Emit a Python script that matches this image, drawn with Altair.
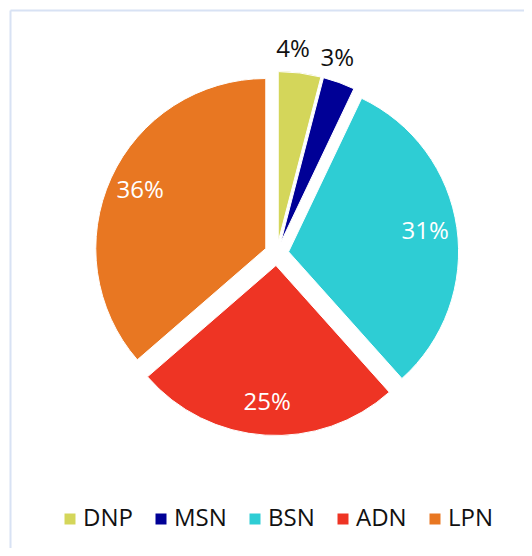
import altair as alt
import pandas as pd

categories = ["DNP", "MSN", "BSN", "ADN", "LPN"]
values = [4, 3, 31, 25, 36]
colors = ["#D4D65A", "#000096", "#2ECDD4", "#EE3424", "#E87722"]

df = pd.DataFrame({"cat": categories, "value": values, "order": list(range(len(categories)))})

W, H = 516, 540
CX, CY = 268.7, 245.5
R = 170
EXPLODE = 12
FONT = "Open Sans"

base = (
    alt.Chart(df)
    .transform_joinaggregate(total="sum(value)")
    .transform_window(cum="sum(value)", sort=[alt.SortField("order")], frame=[None, 0])
    .transform_calculate(
        start="2*PI*(datum.cum - datum.value)/datum.total",
        end="2*PI*datum.cum/datum.total",
    )
    .transform_calculate(mid="(datum.start + datum.end)/2")
    .transform_calculate(
        cx=f"{CX} + {EXPLODE}*sin(datum.mid)",
        cy=f"{CY} - {EXPLODE}*cos(datum.mid)",
        out_theta="datum.mid - 0.05",
        label="datum.value + '%'",
    )
)

arcs = base.mark_arc(outerRadius=R, stroke="white", strokeWidth=1).encode(
    theta=alt.Theta("start:Q", scale=None, stack=None),
    theta2="end:Q",
    x=alt.X("cx:Q", scale=None),
    y=alt.Y("cy:Q", scale=None),
    color=alt.Color(
        "cat:N",
        scale=alt.Scale(domain=categories, range=colors),
        sort=categories,
        legend=alt.Legend(
            title=None,
            orient="none",
            legendX=50,
            legendY=499,
            direction="horizontal",
            symbolType="square",
            symbolSize=121,
            symbolStrokeWidth=0,
            symbolOpacity=1,
            labelFont=FONT,
            labelFontSize=24,
            labelColor="#111111",
            labelOffset=1,
            columnPadding=16,
            padding=0,
        ),
    ),
)

inner = base.transform_filter("datum.value >= 10").mark_text(
    radius=138, font=FONT, fontSize=24, color="white", align="center", baseline="middle"
).encode(
    theta=alt.Theta("mid:Q", scale=None, stack=None),
    x=alt.X("cx:Q", scale=None),
    y=alt.Y("cy:Q", scale=None),
    text="label:N",
)

outer = base.transform_filter("datum.value < 10").mark_text(
    radius=192, font=FONT, fontSize=24, color="#111111", align="center", baseline="middle"
).encode(
    theta=alt.Theta("out_theta:Q", scale=None, stack=None),
    x=alt.X("cx:Q", scale=None),
    y=alt.Y("cy:Q", scale=None),
    text="label:N",
)

one = pd.DataFrame({"a": [0]})
top_line = alt.Chart(one).mark_rule(color="#D8E2F4", strokeWidth=2).encode(
    x=alt.value(2.5), x2=alt.value(W), y=alt.value(2.5)
)
left_line = alt.Chart(one).mark_rule(color="#D8E2F4", strokeWidth=2).encode(
    x=alt.value(2.5), y=alt.value(2.5), y2=alt.value(H)
)

chart = (
    alt.layer(top_line, left_line, arcs, inner, outer)
    .properties(width=W, height=H, padding=0, autosize=alt.AutoSizeParams(type="none"), background="white")
    .configure_view(stroke=None)
)

chart.save("out.html", embed_options={"renderer": "svg", "actions": False})
